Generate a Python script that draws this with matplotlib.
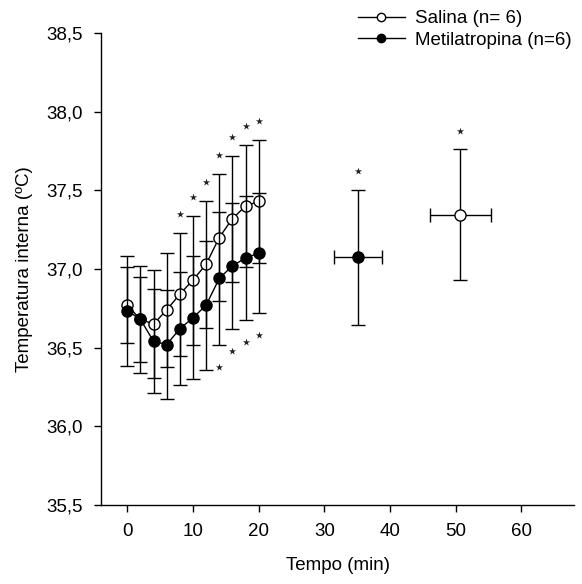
import matplotlib
matplotlib.use("Agg")
import matplotlib.pyplot as plt
from matplotlib.lines import Line2D
from matplotlib.ticker import FuncFormatter

plt.rcParams['font.family'] = ['Liberation Sans', 'DejaVu Sans']

# tempo (min)
tempo = [0, 2, 4, 6, 8, 10, 12, 14, 16, 18, 20]

# Salina (n=6)
salina_media = [36.77, 36.68, 36.65, 36.74, 36.84, 36.93, 37.03, 37.20, 37.32, 37.40, 37.43]
salina_dp = [0.24, 0.27, 0.345, 0.36, 0.39, 0.41, 0.405, 0.405, 0.40, 0.39, 0.39]

# Metilatropina (n=6)
metil_media = [36.735, 36.68, 36.54, 36.52, 36.62, 36.69, 36.77, 36.94, 37.02, 37.07, 37.10]
metil_dp = [0.35, 0.34, 0.33, 0.345, 0.36, 0.39, 0.41, 0.42, 0.40, 0.395, 0.38]

# pontos isolados (tempo medio +- dp, temperatura +- dp)
metil_pico_t, metil_pico_t_dp = 35.15, 3.65
metil_pico_temp, metil_pico_temp_dp = 37.075, 0.43
salina_pico_t, salina_pico_t_dp = 50.7, 4.65
salina_pico_temp, salina_pico_temp_dp = 37.345, 0.415

# indices com diferenca significativa (*)
sig_salina = [4, 5, 6, 7, 8, 9, 10]
sig_metil = [7, 8, 9, 10]

yticks = [35.5, 36.0, 36.5, 37.0, 37.5, 38.0, 38.5]
xticks = [0, 10, 20, 30, 40, 50, 60]

fig = plt.figure(figsize=(5.82, 5.84), dpi=100)
ax = fig.add_axes([101 / 582, 1 - 505 / 584, 473 / 582, 472 / 584])

eb = dict(ecolor='black', elinewidth=1, capsize=4.8, capthick=1, color='black')

ax.errorbar(tempo, salina_media, yerr=salina_dp, marker='o', ms=8, lw=1,
            mfc='white', mec='black', mew=1, zorder=3, **eb)
ax.errorbar(tempo, metil_media, yerr=metil_dp, marker='o', ms=8, lw=1,
            mfc='black', mec='black', mew=1, zorder=4, **eb)

ax.errorbar([metil_pico_t], [metil_pico_temp], xerr=[metil_pico_t_dp],
            yerr=[metil_pico_temp_dp], marker='o', ms=8, mfc='black',
            mec='black', linestyle='none', zorder=4, **eb)
ax.errorbar([salina_pico_t], [salina_pico_temp], xerr=[salina_pico_t_dp],
            yerr=[salina_pico_temp_dp], marker='o', ms=8, mfc='white',
            mec='black', linestyle='none', zorder=4, **eb)

# asteriscos
star = dict(marker='*', color='#222222', s=30, linewidths=0, zorder=5)
ax.scatter([tempo[i] for i in sig_salina],
           [salina_media[i] + salina_dp[i] + 0.12 for i in sig_salina], **star)
ax.scatter([tempo[i] for i in sig_metil],
           [metil_media[i] - metil_dp[i] - 0.14 for i in sig_metil], **star)
ax.scatter([metil_pico_t, salina_pico_t],
           [metil_pico_temp + metil_pico_temp_dp + 0.12,
            salina_pico_temp + salina_pico_temp_dp + 0.12], **star)

ax.set_xlim(-4, 68)
ax.set_ylim(35.5, 38.5)
ax.set_xticks(xticks)
ax.set_yticks(yticks)
ax.yaxis.set_major_formatter(FuncFormatter(lambda v, p: f"{v:.1f}".replace('.', ',')))

for s in ['top', 'right']:
    ax.spines[s].set_visible(False)
for s in ['left', 'bottom']:
    ax.spines[s].set_linewidth(1)
ax.tick_params(direction='out', length=5, width=1, labelsize=13.5, pad=8)

ax.set_xlabel('Tempo (min)', fontsize=13.5, labelpad=12)
ax.set_ylabel('Temperatura interna (ºC)', fontsize=13.5, labelpad=10)

handles = [
    Line2D([], [], color='black', lw=1, marker='o', ms=6, mfc='white', mec='black'),
    Line2D([], [], color='black', lw=1, marker='o', ms=6, mfc='black', mec='black'),
]
fig.legend(handles, ['Salina (n= 6)', 'Metilatropina (n=6)'], loc='upper left',
           bbox_to_anchor=(358 / 582, 1 - 10 / 584), frameon=False, fontsize=13.5,
           borderpad=0, borderaxespad=0, handlelength=2.5, handletextpad=0.55,
           labelspacing=0.25)

fig.savefig('out.png', dpi=100)
